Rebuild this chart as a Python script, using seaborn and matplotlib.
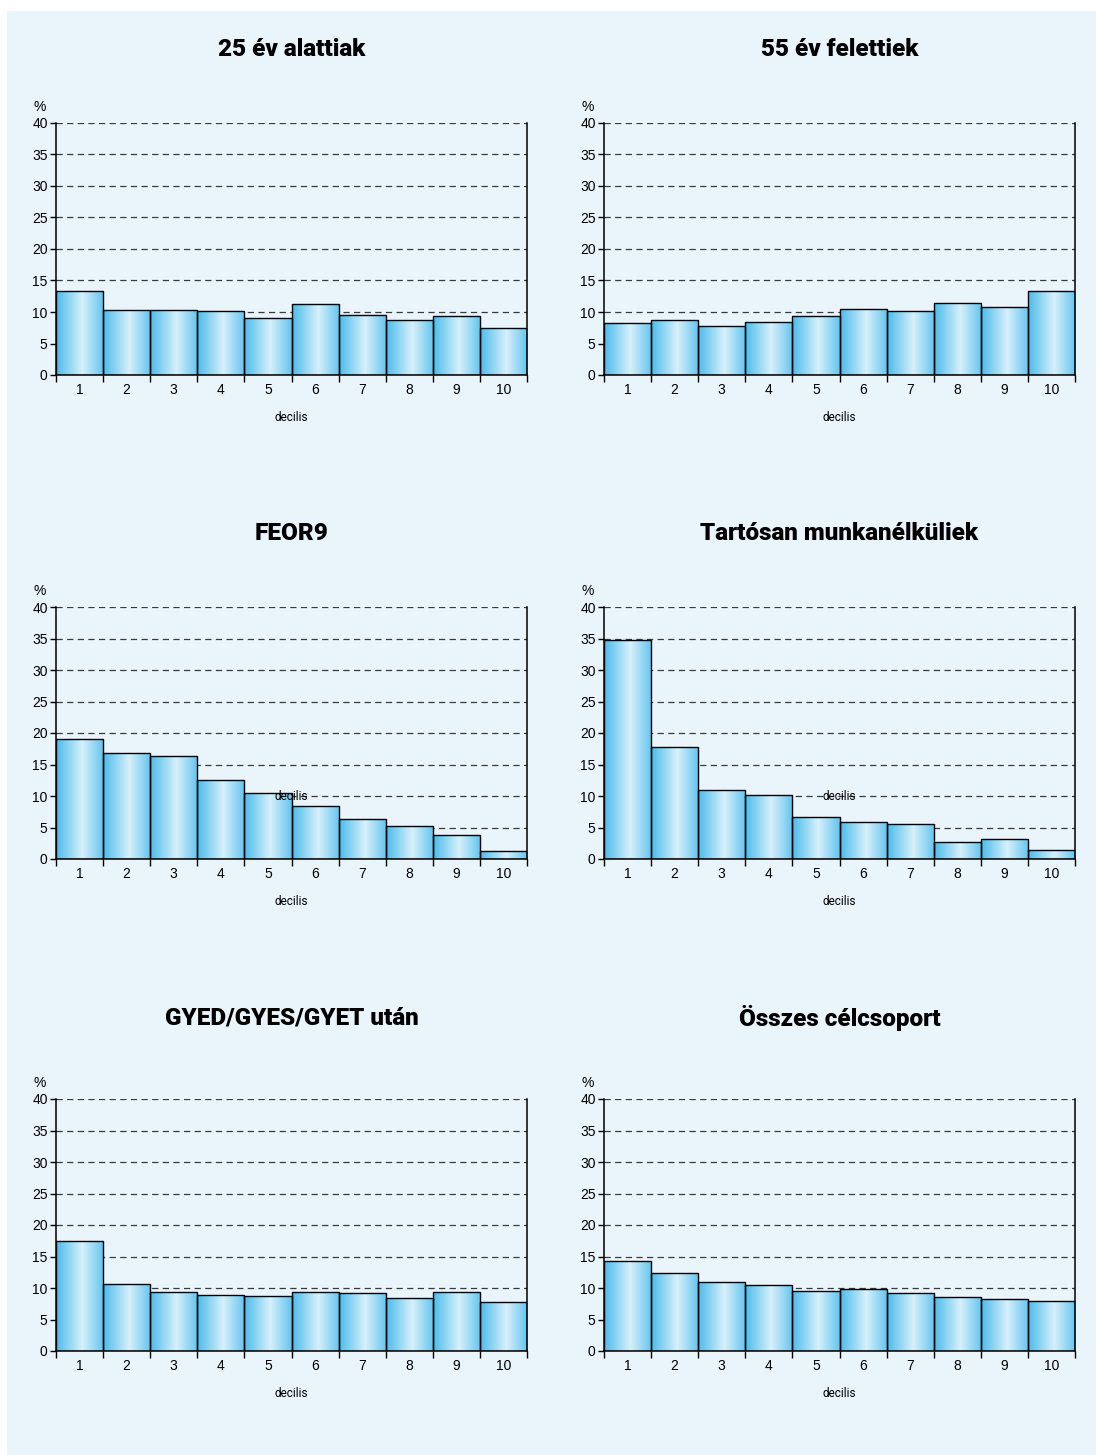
import matplotlib
matplotlib.use('Agg')
import matplotlib.pyplot as plt
import numpy as np
import pandas as pd
import seaborn as sns
from matplotlib.colors import LinearSegmentedColormap
from matplotlib.patches import Rectangle

sns.set_style('white')
plt.rcParams['font.family'] = ['Liberation Sans', 'DejaVu Sans']
plt.rcParams['text.color'] = 'black'
plt.rcParams['xtick.color'] = 'black'
plt.rcParams['ytick.color'] = 'black'
plt.rcParams['axes.labelcolor'] = 'black'

# adatok
decilisek = ['1', '2', '3', '4', '5', '6', '7', '8', '9', '10']
cimek = ['25 év alattiak', '55 év felettiek', 'FEOR9',
         'Tartósan munkanélküliek', 'GYED/GYES/GYET után', 'Összes célcsoport']
alattiak_25 = [13.4, 10.3, 10.3, 10.1, 9.0, 11.2, 9.6, 8.8, 9.4, 7.4]
felettiek_55 = [8.2, 8.8, 7.7, 8.4, 9.3, 10.4, 10.2, 11.5, 10.8, 13.3]
feor9 = [19.1, 16.8, 16.3, 12.5, 10.5, 8.4, 6.3, 5.3, 3.8, 1.2]
tartosan = [34.7, 17.7, 10.9, 10.2, 6.7, 5.8, 5.5, 2.7, 3.1, 1.4]
gyed = [17.5, 10.6, 9.4, 8.9, 8.7, 9.4, 9.2, 8.4, 9.4, 7.8]
osszes = [14.3, 12.4, 11.0, 10.5, 9.6, 9.8, 9.2, 8.6, 8.3, 8.0]
sorozatok = [alattiak_25, felettiek_55, feor9, tartosan, gyed, osszes]
y_ticks = [0, 5, 10, 15, 20, 25, 30, 35, 40]

szuk = ['Roboto', 'DejaVu Sans']

W, H = 1096, 1455
fig = plt.figure(figsize=(W / 100, H / 100), dpi=100)
fig.patch.set_facecolor('white')
fig.add_artist(Rectangle((7 / W, 0), (W - 7) / W, (H - 11) / H,
                         transform=fig.transFigure, facecolor='#E9F4FB',
                         edgecolor='none', zorder=0))

grad_cmap = LinearSegmentedColormap.from_list(
    'oszlop', [(0.0, '#4ABCEA'), (0.55, '#D8F0FB'), (1.0, '#62C4EE')])
grad = np.linspace(0, 1, 256).reshape(1, -1)

bal = [56, 604]
teteje = [123, 607, 1099]
cim_y = [50, 534, 1018]
ax_w, ax_h = 471, 252

for i, (cim, ertekek) in enumerate(zip(cimek, sorozatok)):
    sor, oszlop = divmod(i, 2)
    x0 = bal[oszlop]
    y_top = teteje[sor]
    ax = fig.add_axes([x0 / W, 1 - (y_top + ax_h) / H, ax_w / W, ax_h / H])
    ax.set_facecolor('none')

    df = pd.DataFrame({'decilis': decilisek, 'arany': ertekek})
    sns.barplot(data=df, x='decilis', y='arany', order=decilisek, ax=ax,
                width=1.0, color='#8FD6F2', edgecolor='black', linewidth=1.0,
                zorder=3)

    # színátmenetes kitöltés
    for p in list(ax.patches):
        px, py = p.get_x(), p.get_y()
        pw, ph = p.get_width(), p.get_height()
        p.set_facecolor('none')
        im = ax.imshow(grad, cmap=grad_cmap, aspect='auto',
                       extent=[px, px + pw, py, py + ph], zorder=2.5,
                       interpolation='bilinear')
        im.set_clip_path(p)

    ax.set_xlim(-0.5, 9.5)
    ax.set_ylim(0, 40)
    ax.set_yticks(y_ticks)
    ax.set_yticklabels([str(t) for t in y_ticks], fontsize=10)
    for t in y_ticks[1:]:
        ax.axhline(t, color='#3a3a3a', linestyle=(0, (5, 3.5)), linewidth=0.9,
                   zorder=1)

    ax.set_xticks(range(10))
    ax.set_xticklabels(decilisek, fontsize=10)
    ax.set_xticks(np.arange(-0.5, 10, 1), minor=True)
    ax.tick_params(axis='x', which='major', length=0, pad=6)
    ax.tick_params(axis='x', which='minor', length=5, width=1, color='black',
                   direction='out', bottom=True)
    ax.tick_params(axis='y', length=4, width=1, color='black', direction='out',
                   left=True, pad=2)
    ax.set_xlabel('decilis', fontsize=8.5, labelpad=10, family=szuk)
    ax.set_ylabel('')

    for s in ['left', 'bottom', 'right']:
        ax.spines[s].set_visible(True)
        ax.spines[s].set_color('black')
        ax.spines[s].set_linewidth(1.1)
    ax.spines['top'].set_visible(False)

    ax.text(-0.035, 1.035, '%', transform=ax.transAxes, fontsize=10,
            ha='center', va='bottom')
    fig.text((x0 + ax_w / 2) / W, 1 - cim_y[sor] / H, cim, fontsize=17.5,
             fontweight='heavy', family=szuk, ha='center', va='center')

    # a középső sorban a "decilis" felirat a diagramba is bekerült
    if sor == 1:
        ax.text(0.5, 10, 'decilis', transform=ax.get_yaxis_transform(),
                fontsize=8.5, ha='center', va='center', zorder=4, family=szuk)

fig.savefig('out.png', dpi=100, facecolor=fig.get_facecolor())
